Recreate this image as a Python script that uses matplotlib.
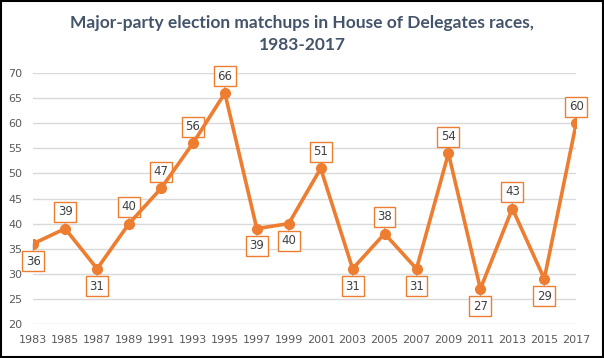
import matplotlib.pyplot as plt
from matplotlib.patches import Rectangle

years = [1983, 1985, 1987, 1989, 1991, 1993, 1995, 1997, 1999,
         2001, 2003, 2005, 2007, 2009, 2011, 2013, 2015, 2017]
matchups = [36, 39, 31, 40, 47, 56, 66, 39, 40, 51, 31, 38, 31, 54, 27, 43, 29, 60]
# label placement: 1 above point, -1 below
label_side = [-1, 1, -1, 1, 1, 1, 1, -1, -1, 1, -1, 1, -1, 1, -1, 1, -1, 1]

orange = "#ED7D31"
grey_txt = "#595959"

fig = plt.figure(figsize=(6.04, 3.58), dpi=100)
ax = fig.add_axes([0.055, 0.095, 0.899, 0.701])

ax.plot(years, matchups, color=orange, lw=2.6, marker="o", ms=7, zorder=3,
        solid_joinstyle="round")

for x, y, s in zip(years, matchups, label_side):
    off = 12 if s > 0 else -12.5
    ax.annotate(str(y), (x, y), xytext=(0, off), textcoords="offset points",
                ha="center", va="center", fontsize=8.5, color="#404040",
                bbox=dict(boxstyle="square,pad=0.3", fc="white", ec=orange, lw=1),
                arrowprops=dict(arrowstyle="-", color="#A6A6A6", lw=0.8,
                                shrinkA=0, shrinkB=0),
                zorder=2)

ax.set_xlim(1983, 2017)
ax.set_ylim(20, 70)
ax.set_xticks(years)
ax.set_yticks(range(20, 71, 5))
ax.tick_params(length=0, labelsize=8, labelcolor=grey_txt, pad=8)
ax.grid(axis="y", color="#D9D9D9", lw=1)
ax.set_axisbelow(True)
for sp in ax.spines.values():
    sp.set_visible(False)

title_font = ["Lato", "DejaVu Sans"]
fig.text(0.5, 0.937, "Major-party election matchups in House of Delegates races,",
         ha="center", va="center", fontsize=12.5, fontweight="bold", color="#44546A",
         family=title_font)
fig.text(0.5, 0.873, "1983-2017",
         ha="center", va="center", fontsize=12.5, fontweight="bold", color="#44546A",
         family=title_font)

fig.patches.append(Rectangle((0.002, 0.003), 0.996, 0.994, transform=fig.transFigure,
                             fill=False, ec="black", lw=1.5))

fig.savefig("out.png", dpi=100)
